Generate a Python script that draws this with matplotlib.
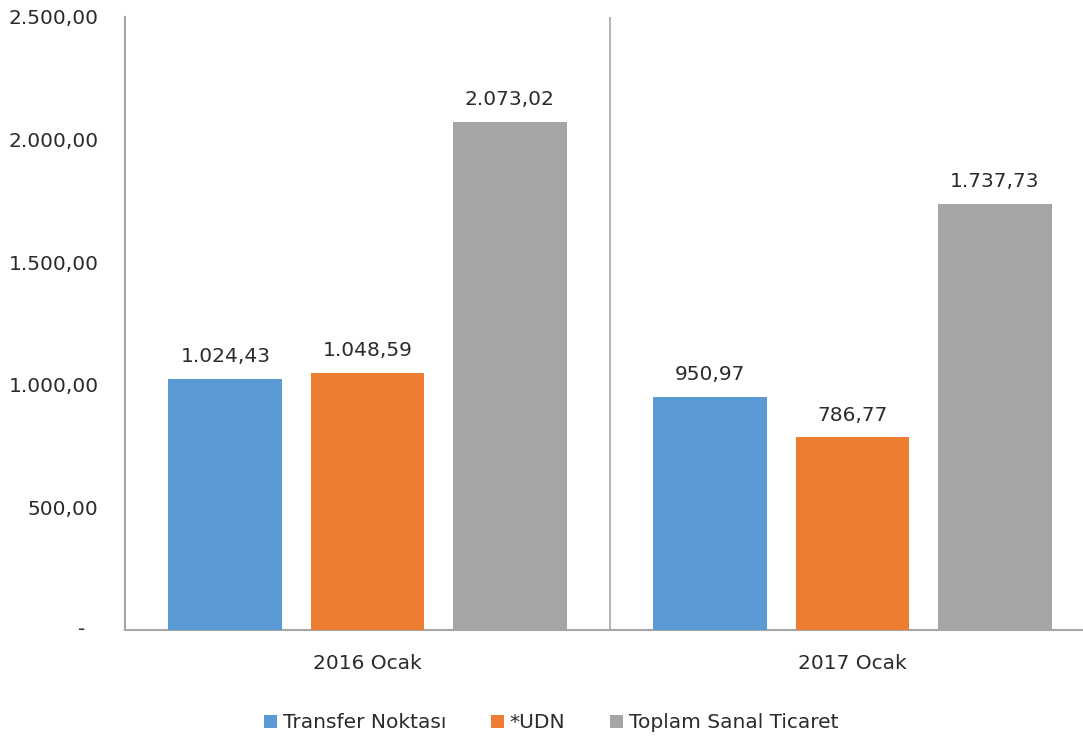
import matplotlib
matplotlib.use("Agg")
import matplotlib.pyplot as plt
import numpy as np
from matplotlib.patches import Patch
from matplotlib.transforms import ScaledTranslation

categories = ["2016 Ocak", "2017 Ocak"]
series_names = ["Transfer Noktası", "*UDN", "Toplam Sanal Ticaret"]
transfer = [1024.43, 950.97]
udn = [1048.59, 786.77]
toplam = [2073.02, 1737.73]
yticks = [0, 500, 1000, 1500, 2000, 2500]

colors = ["#5B9BD5", "#ED7D31", "#A5A5A5"]
text_color = "#2B2B2B"
axis_color = "#A6A6A6"
fs = 14.5

def tr_fmt(v):
    s = f"{v:,.2f}"
    return s.replace(",", "X").replace(".", ",").replace("X", ".")

W, H = 1083, 740
fig = plt.figure(figsize=(W / 100, H / 100), dpi=100)
ax = fig.add_axes([125 / W, 1 - 630 / H, 970 / W, 613 / H])

x = np.arange(len(categories))
offsets = [-0.293, 0.0, 0.293]
bw = 0.235
for vals, off, col, name in zip([transfer, udn, toplam], offsets, colors, series_names):
    bars = ax.bar(x + off, vals, width=bw, color=col, label=name, zorder=3)
    for b, v in zip(bars, vals):
        ax.annotate(tr_fmt(v), (b.get_x() + b.get_width() / 2, v),
                    xytext=(0, 9), textcoords="offset points",
                    ha="center", va="bottom", fontsize=fs, color=text_color)

ax.set_xlim(-0.5, 1.5)
ax.set_ylim(0, 2500)
ax.set_yticks(yticks)
ax.set_yticklabels([tr_fmt(v) if v else "" for v in yticks])
dash = ax.text(-0.5, 0, "-", ha="right", va="center", fontsize=fs, color=text_color)
dash.set_transform(ax.transData + ScaledTranslation(-40 / 100, 0, fig.dpi_scale_trans))

ax.set_xticks(x)
ax.set_xticklabels(categories)
ax.tick_params(axis="both", length=0, labelsize=fs, colors=text_color)
ax.tick_params(axis="y", pad=19)
ax.tick_params(axis="x", pad=17)

for s in ["top", "right"]:
    ax.spines[s].set_visible(False)
for s in ["left", "bottom"]:
    ax.spines[s].set_color(axis_color)
    ax.spines[s].set_linewidth(1.5)
ax.axvline(0.5, color=axis_color, linewidth=1.2, zorder=1)

handles = [Patch(facecolor=c, edgecolor="none") for c in colors]
fig.legend(handles, series_names, loc="center", bbox_to_anchor=(551 / W, 1 - 723 / H),
           ncol=3, frameon=False, fontsize=fs, handlelength=0.65, handleheight=0.65,
           handletextpad=0.3, columnspacing=2.2, labelcolor=text_color)

fig.savefig("out.png", dpi=100)
